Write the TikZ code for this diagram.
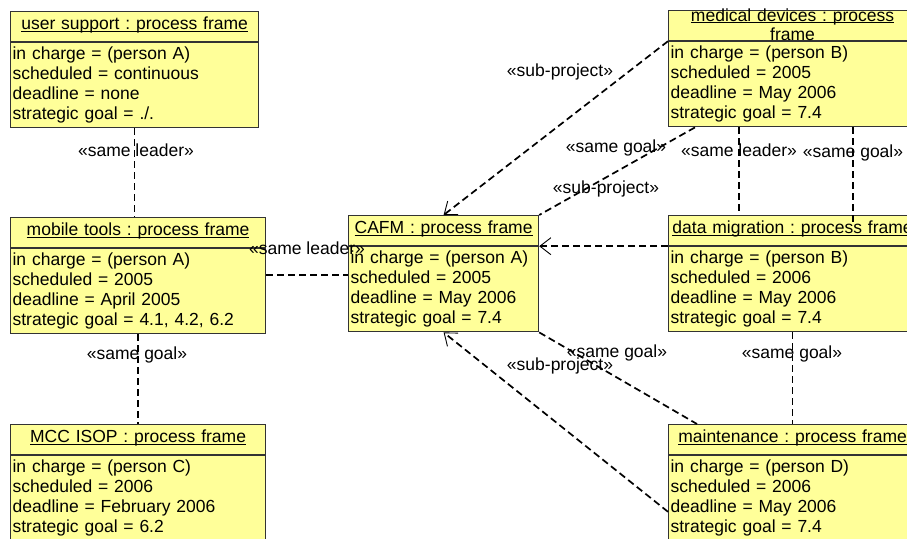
\documentclass[tikz,border=0pt]{standalone}
\usepackage{fontspec}
\setmainfont{Liberation Sans}
\usetikzlibrary{arrows.meta}
\usetikzlibrary{calc}
\definecolor{framefill}{HTML}{FFFF99}
\frenchspacing
\newsavebox\ulbox
\newcommand\ultext[1]{\sbox\ulbox{#1}\smash{\rlap{\rule[-2.1pt]{\wd\ulbox}{1pt}}\usebox\ulbox}}
\newcommand\headstrut{\rule[-4.5pt]{0pt}{15.5pt}}
\newcommand\bodystrut{\rule[-5.7pt]{0pt}{20pt}}
\newcommand\myhead[1]{\ultext{#1}\headstrut}
\newcommand\attrs[4]{\bodystrut#1\\\bodystrut#2\\\bodystrut#3\\\bodystrut#4}

\begin{document}
\begin{tikzpicture}[x=1pt,y=-1pt,
    pfbox/.style={
      draw=black!80, fill=framefill, line width=1.2pt,
      inner xsep=2pt, inner ysep=0pt,
      font=\fontsize{17.5}{20}\selectfont
    },
    head/.style={pfbox, text width=#1, align=center, minimum height=30pt},
    body/.style={pfbox, text width=#1, align=left, minimum height=85pt},
    link/.style={line width=1.7pt, dash pattern=on 7pt off 4pt},
    subproject/.style={
      link, -{Straight Barb[length=11pt,width=17pt,line width=0.9pt]}
    },
    tag/.style={inner sep=0pt, font=\fontsize{17.5}{20}\selectfont}
  ]
    \useasboundingbox (0,0) rectangle (907,538);

    % left column
    \node[head=244pt, anchor=north west] (usHead) at (10,11) {\myhead{user support : process frame}};
    \node[body=244pt, anchor=north] (usBody) at (usHead.south)
      {\attrs{in charge = (person A)}{scheduled = continuous}{deadline = none}{strategic goal = ./.}};

    \node[head=251pt, anchor=north west] (mtHead) at (10,217) {\myhead{mobile tools : process frame}};
    \node[body=251pt, anchor=north] (mtBody) at (mtHead.south)
      {\attrs{in charge = (person A)}{scheduled = 2005}{deadline = April 2005}{strategic goal = 4.1, 4.2, 6.2}};

    \node[head=251pt, anchor=north west] (mccHead) at (10,424) {\myhead{MCC ISOP : process frame}};
    \node[body=251pt, anchor=north] (mccBody) at (mccHead.south)
      {\attrs{in charge = (person C)}{scheduled = 2006}{deadline = February 2006}{strategic goal = 6.2}};

    % middle
    \node[head=186pt, anchor=north west] (cafmHead) at (348,215) {\myhead{CAFM : process frame}};
    \node[body=186pt, anchor=north] (cafmBody) at (cafmHead.south)
      {\attrs{in charge = (person A)}{scheduled = 2005}{deadline = May 2006}{strategic goal = 7.4}};

    % right column
    \node[head=244pt, anchor=north west, font=\fontsize{17.5}{18.8}\selectfont] (mdHead) at (668,10)
      {\ultext{medical devices : process}\rule{0pt}{10.2pt}\\\ultext{frame}};
    \node[body=244pt, anchor=north] (mdBody) at (mdHead.south)
      {\attrs{in charge = (person B)}{scheduled = 2005}{deadline = May 2006}{strategic goal = 7.4}};

    \node[head=244pt, anchor=north west] (dmHead) at (668,215) {\myhead{data migration : process frame}};
    \node[body=244pt, anchor=north] (dmBody) at (dmHead.south)
      {\attrs{in charge = (person B)}{scheduled = 2006}{deadline = May 2006}{strategic goal = 7.4}};

    \node[head=244pt, anchor=north west] (maHead) at (668,424) {\myhead{maintenance : process frame}};
    \node[body=244pt, anchor=north] (maBody) at (maHead.south)
      {\attrs{in charge = (person D)}{scheduled = 2006}{deadline = May 2006}{strategic goal = 7.4}};

    % connectors
    \coordinate (mtLink) at ($(mtBody.east)+(0,-16)$);
    \coordinate (mdLead) at ($(mdBody.south west)+(71,0)$);
    \coordinate (mdGoal) at ($(mdBody.south west)+(185,0)$);
    \coordinate (mdGoalEnd) at ($(mdGoal |- dmHead.north)+(0,10)$);
    \coordinate (mdCafm) at ($(mdBody.south west)+(27,0)$);
    \coordinate (maCafm) at ($(maHead.north west)+(29,0)$);
    \coordinate (maSub) at ($(maBody.west)+(0,13.5)$);

    \draw[link] (usBody.south) -- (usBody.south |- mtHead.north);
    \draw[link] (mtBody.south) -- (mccHead.north);
    \draw[link] (mtLink) -- (mtLink -| cafmBody.west);
    \draw[subproject] (mdHead.south west) -- (cafmHead.north);
    \draw[link] (mdCafm) -- (cafmHead.north east);
    \draw[subproject] (dmHead.south west) -- (dmHead.south west -| cafmHead.east);
    \draw[link] (mdLead) -- (mdLead |- dmHead.north);
    \draw[link] (mdGoal) -- (mdGoalEnd);
    \draw[link] (cafmBody.south east) -- (maCafm);
    \draw[subproject] (maSub) -- (cafmBody.south);
    \draw[link] (dmBody.south) -- (maHead.north);

    % stereotypes
    \node[tag] (usMtTag) at (136,150) {«same leader»};
    \node[tag] (mtCafmTag) at (307,248) {«same leader»};
    \node[tag] (mtMccTag) at (137,355) {«same goal»};
    \node[tag] (mdSubTag) at (560,72) {«sub-project»};
    \node[tag] (mdCafmTag) at (616,148) {«same goal»};
    \node[tag] (dmSubTag) at (606,189) {«sub-project»};
    \node[tag] (mdLeadTag) at (739,150) {«same leader»};
    \node[tag] (mdGoalTag) at (853,153) {«same goal»};
    \node[tag] (cafmMaTag) at (617,353) {«same goal»};
    \node[tag] (maSubTag) at (560,366) {«sub-project»};
    \node[tag] (dmMaTag) at (792,354) {«same goal»};
  \end{tikzpicture}
\end{document}
